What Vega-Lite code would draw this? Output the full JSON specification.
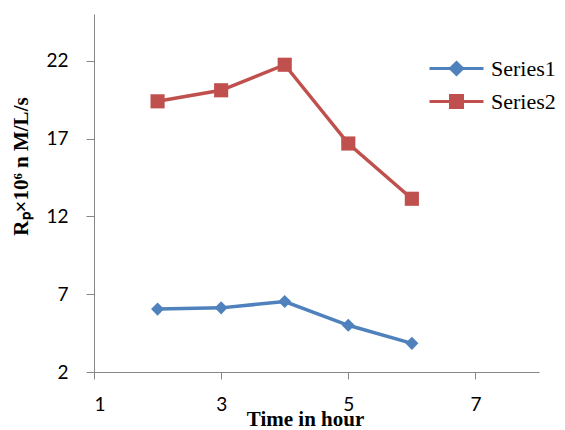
{
  "$schema": "https://vega.github.io/schema/vega-lite/v6.json",
  "width": 445,
  "height": 358,
  "autosize": {"type": "none"},
  "padding": {"left": 94, "top": 14, "right": 26, "bottom": 58},
  "background": "white",
  "config": {"view": {"stroke": null}},
  "data": {"values": [
    {"time": 2, "rate": 6.04, "series": "Series1"},
    {"time": 3, "rate": 6.12, "series": "Series1"},
    {"time": 4, "rate": 6.53, "series": "Series1"},
    {"time": 5, "rate": 5.0, "series": "Series1"},
    {"time": 6, "rate": 3.84, "series": "Series1"},
    {"time": 2, "rate": 19.39, "series": "Series2"},
    {"time": 3, "rate": 20.1, "series": "Series2"},
    {"time": 4, "rate": 21.74, "series": "Series2"},
    {"time": 5, "rate": 16.68, "series": "Series2"},
    {"time": 6, "rate": 13.13, "series": "Series2"}
  ]},
  "encoding": {
    "x": {"field": "time", "type": "quantitative",
      "scale": {"domain": [1, 8], "nice": false, "zero": false},
      "axis": {"values": [1, 3, 5, 7], "grid": false, "domainColor": "#868686", "tickColor": "#868686",
        "tickSize": 7, "labelPadding": 16, "labelFont": "Lato", "labelFontSize": 19, "labelColor": "#000",
        "title": "Time in hour", "titleFont": "Liberation Serif", "titleFontWeight": "bold", "titleFontSize": 21,
        "titleColor": "#000", "titleX": 211, "titleY": 53, "titleBaseline": "alphabetic", "titleAlign": "center"}},
    "y": {"field": "rate", "type": "quantitative",
      "scale": {"domain": [2, 25], "nice": false, "zero": false},
      "axis": {"values": [2, 7, 12, 17, 22], "grid": false, "domainColor": "#868686", "tickColor": "#868686",
        "tickSize": 8, "labelPadding": 18, "labelFont": "Lato", "labelFontSize": 19, "labelColor": "#000",
        "title": "Rₚ×10⁶ n M/L/s", "titleFont": "Liberation Serif", "titleFontWeight": "bold", "titleFontSize": 21,
        "titleColor": "#000", "titleX": -73, "titleY": 152, "titleAngle": -90, "titleBaseline": "middle", "titleAlign": "center"}},
    "color": {"field": "series", "type": "nominal",
      "scale": {"domain": ["Series1", "Series2"], "range": ["#4F81BD", "#C0504D"]},
      "legend": {"title": null, "orient": "none", "legendX": 351, "legendY": 43,
         "symbolSize": 400, "symbolStrokeWidth": 3, "labelOffset": 23, "rowPadding": 8,
         "labelFont": "Liberation Serif", "labelFontSize": 22, "labelColor": "#000",
         "encode": {"symbols": {"update": {
           "shape": {"signal": "datum.value === 'Series1' ? 'M-2.7,0H2.7M0,-0.6L0.6,0L0,0.6L-0.6,0Z' : 'M-2.7,0H2.7M-0.6,-0.6H0.6V0.6H-0.6Z'"},
           "fill": {"signal": "datum.value === 'Series1' ? '#4F81BD' : '#C0504D'"},
           "stroke": {"signal": "datum.value === 'Series1' ? '#4F81BD' : '#C0504D'"},
           "strokeWidth": {"value": 3},
           "opacity": {"value": 1}
         }}}}}
  },
  "layer": [
    {"mark": {"type": "line", "strokeWidth": 3.5}},
    {"transform": [{"filter": "datum.series === 'Series1'"}],
     "mark": {"type": "point", "filled": true, "opacity": 1, "shape": "diamond", "size": 170}},
    {"transform": [{"filter": "datum.series === 'Series2'"}],
     "mark": {"type": "point", "filled": true, "opacity": 1, "shape": "square", "size": 200}}
  ]
}
